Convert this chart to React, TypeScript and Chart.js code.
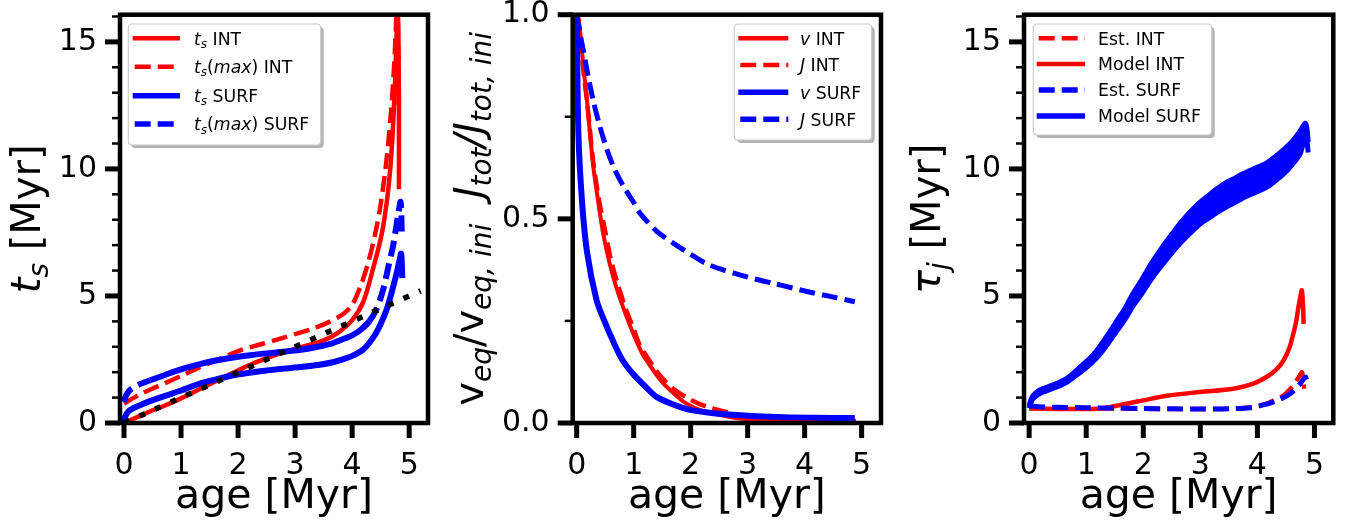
import React, { useEffect, useRef } from 'react';
import { Chart, registerables } from 'chart.js';

Chart.register(...registerables);

const RED = '#ff0000';
const BLUE = '#0000ff';
const BLACK = '#000000';
const FONT = "'DejaVu Sans'";
const DASH = [16, 7];
const DOTS = [6, 11];

// ---------- Panel 1 : t_s ----------
const p1AgeTicks = [0, 1, 2, 3, 4, 5];
const p1TsTicks = [0, 5, 10, 15];
const p1TsMinor = [1, 2, 3, 4, 6, 7, 8, 9, 11, 12, 13, 14, 16];

const tsIntAge = [0, 0.25, 0.5, 0.75, 1.0, 1.25, 1.5, 1.75, 2.0, 2.25, 2.5, 2.75, 3.0, 3.25, 3.5, 3.75, 4.0, 4.2, 4.37, 4.52, 4.61, 4.67, 4.71, 4.75, 4.78, 4.8, 4.82, 4.82];
const tsIntVal = [0, 0.25, 0.5, 0.72, 0.97, 1.25, 1.53, 1.8, 2.07, 2.33, 2.55, 2.75, 2.92, 3.07, 3.25, 3.55, 4.05, 4.8, 6.1, 7.45, 8.75, 10.05, 11.4, 13.3, 15.3, 16.5, 12.7, 9.2];

const tsMaxIntAge = [0.0, 0.1, 0.3, 0.57, 1.0, 1.33, 1.7, 2.04, 2.4, 2.74, 3.0, 3.32, 3.6, 3.85, 4.0, 4.15, 4.28, 4.4, 4.5, 4.6, 4.68, 4.74, 4.79, 4.81, 4.82];
const tsMaxIntVal = [0.76, 0.9, 1.15, 1.42, 1.85, 2.2, 2.55, 2.86, 3.1, 3.32, 3.5, 3.72, 3.98, 4.3, 4.65, 5.4, 6.3, 7.4, 8.6, 10.3, 12.2, 14.2, 16.5, 14.5, 12.5];

const tsSurfAge = [0.0, 0.03, 0.1, 0.28, 0.5, 0.75, 1.0, 1.33, 1.62, 1.92, 2.2, 2.5, 2.8, 3.09, 3.4, 3.68, 3.9, 4.03, 4.2, 4.38, 4.5, 4.61, 4.7, 4.78, 4.83, 4.86, 4.88];
const tsSurfVal = [0.04, 0.3, 0.5, 0.7, 0.9, 1.09, 1.28, 1.55, 1.72, 1.88, 1.98, 2.07, 2.14, 2.2, 2.28, 2.4, 2.55, 2.67, 2.9, 3.4, 3.9, 4.5, 5.2, 5.9, 6.4, 6.67, 5.7];

const tsMaxSurfAge = [0.0, 0.03, 0.1, 0.25, 0.46, 0.75, 1.04, 1.33, 1.63, 1.92, 2.21, 2.5, 2.79, 3.1, 3.38, 3.6, 3.79, 4.0, 4.14, 4.3, 4.43, 4.55, 4.64, 4.72, 4.81, 4.85, 4.87];
const tsMaxSurfVal = [0.83, 1.05, 1.29, 1.5, 1.68, 1.92, 2.14, 2.32, 2.47, 2.58, 2.67, 2.74, 2.8, 2.88, 2.99, 3.1, 3.26, 3.45, 3.65, 4.0, 4.5, 5.3, 6.2, 7.0, 8.24, 8.7, 7.5];

const oneToOneAge = [0, 5.2];
const oneToOneVal = [0, 5.2];

// ---------- Panel 2 : v / J ratios ----------
const p2AgeTicks = [0, 1, 2, 3, 4, 5];
const p2RatioTicks = [0, 0.5, 1];
const p2RatioMinor = [0.25, 0.75];

const vIntAge = [0.02, 0.06, 0.12, 0.18, 0.29, 0.38, 0.47, 0.58, 0.7, 0.85, 0.99, 1.15, 1.34, 1.5, 1.7, 1.9, 2.16, 2.5, 2.86, 3.5, 4.2, 4.9];
const vIntVal = [1.0, 0.96, 0.87, 0.79, 0.63, 0.54, 0.46, 0.39, 0.33, 0.27, 0.22, 0.17, 0.13, 0.1, 0.073, 0.05, 0.032, 0.02, 0.011, 0.005, 0.003, 0.002];

const jIntAge = [0.02, 0.06, 0.12, 0.18, 0.29, 0.4, 0.5, 0.6, 0.72, 0.86, 1.0, 1.11, 1.34, 1.5, 1.7, 2.0, 2.28, 2.6, 2.86, 3.45, 4.2, 4.9];
const jIntVal = [1.0, 0.95, 0.86, 0.79, 0.64, 0.54, 0.47, 0.4, 0.34, 0.28, 0.23, 0.19, 0.14, 0.11, 0.083, 0.057, 0.04, 0.028, 0.02, 0.012, 0.007, 0.005];

const vSurfAge = [0, 0.03, 0.09, 0.18, 0.35, 0.5, 0.64, 0.8, 0.99, 1.2, 1.4, 1.7, 1.99, 2.4, 2.86, 3.5, 4.2, 4.88];
const vSurfVal = [1.0, 0.71, 0.55, 0.42, 0.3, 0.245, 0.2, 0.155, 0.12, 0.09, 0.064, 0.045, 0.032, 0.024, 0.019, 0.015, 0.013, 0.012];

const jSurfAge = [0, 0.05, 0.12, 0.2, 0.29, 0.4, 0.53, 0.67, 0.82, 1.0, 1.11, 1.4, 1.7, 2.0, 2.28, 2.57, 2.86, 3.15, 3.45, 3.75, 4.04, 4.45, 4.88];
const jSurfVal = [1.0, 0.96, 0.91, 0.85, 0.79, 0.73, 0.67, 0.62, 0.58, 0.54, 0.514, 0.47, 0.44, 0.413, 0.39, 0.375, 0.363, 0.352, 0.342, 0.332, 0.322, 0.31, 0.297];

// ---------- Panel 3 : tau_j ----------
const p3AgeTicks = [0, 1, 2, 3, 4, 5];
const p3TauTicks = [0, 5, 10, 15];
const p3TauMinor = [1, 2, 3, 4, 6, 7, 8, 9, 11, 12, 13, 14, 16];

const estIntAge = [0, 0.5, 1.0, 1.5, 2.0, 2.5, 3.0, 3.5, 3.9, 4.16, 4.3, 4.46, 4.6, 4.69, 4.75, 4.78, 4.8, 4.82];
const estIntVal = [0.62, 0.6, 0.58, 0.57, 0.56, 0.55, 0.55, 0.56, 0.62, 0.76, 0.9, 1.09, 1.4, 1.68, 1.9, 2.0, 1.7, 1.35];

const modelIntAge = [0, 0.5, 1.0, 1.3, 1.53, 1.75, 2.0, 2.41, 2.99, 3.58, 3.93, 4.16, 4.33, 4.46, 4.56, 4.63, 4.68, 4.72, 4.76, 4.78, 4.8, 4.81];
const modelIntVal = [0.57, 0.55, 0.55, 0.58, 0.68, 0.78, 0.89, 1.07, 1.22, 1.35, 1.55, 1.81, 2.1, 2.47, 2.95, 3.52, 4.0, 4.57, 5.05, 5.22, 4.6, 3.9];

const estSurfAge = [0, 0.1, 0.5, 1.0, 1.5, 2.0, 2.5, 3.0, 3.5, 3.87, 4.16, 4.3, 4.46, 4.6, 4.75, 4.84, 4.86];
const estSurfVal = [0.7, 0.65, 0.62, 0.6, 0.59, 0.57, 0.56, 0.55, 0.56, 0.6, 0.74, 0.85, 1.0, 1.2, 1.55, 1.81, 1.7];

const modelSurfAge = [0.0, 0.03, 0.07, 0.15, 0.25, 0.37, 0.5, 0.66, 0.8, 0.95, 1.1, 1.24, 1.38, 1.53, 1.68, 1.82, 1.97, 2.12, 2.26, 2.41, 2.55, 2.7, 2.85, 2.99, 3.14, 3.29, 3.43, 3.58, 3.72, 3.87, 4.01, 4.16, 4.31, 4.46, 4.6, 4.75, 4.84, 4.87, 4.89];
const modelSurfUpper = [0.68, 0.9, 1.08, 1.25, 1.36, 1.46, 1.57, 1.76, 2.01, 2.32, 2.63, 3.02, 3.48, 4.0, 4.52, 5.1, 5.63, 6.21, 6.68, 7.16, 7.58, 8.0, 8.37, 8.68, 8.95, 9.22, 9.43, 9.61, 9.78, 9.94, 10.08, 10.23, 10.48, 10.76, 11.06, 11.5, 11.8, 11.55, 11.05];
const modelSurfLower = [0.58, 0.8, 0.96, 1.11, 1.22, 1.32, 1.43, 1.6, 1.83, 2.08, 2.37, 2.7, 3.12, 3.6, 4.08, 4.6, 5.07, 5.59, 6.02, 6.44, 6.82, 7.2, 7.53, 7.82, 8.05, 8.28, 8.47, 8.65, 8.82, 8.98, 9.12, 9.27, 9.52, 9.8, 10.14, 10.6, 11.3, 11.05, 10.65];

// ---------- helpers ----------
type Run = { t: string; it?: boolean; sub?: boolean };
type LegendRow = { runs: Run[]; color: string; width: number; dash: boolean };

const pts = (xs: number[], ys: number[]) => xs.map((x, i) => ({ x, y: ys[i] }));

function line(xs: number[], ys: number[], color: string, width: number, dash: number[] | null, extra: any = {}) {
  return {
    data: pts(xs, ys),
    borderColor: color,
    backgroundColor: color,
    borderWidth: width,
    borderDash: dash || [],
    pointRadius: 0,
    pointHoverRadius: 0,
    fill: false,
    tension: 0.3,
    ...extra,
  };
}

function fontFor(r: Run, size: number) {
  const s = r.sub ? size * 0.7 : size;
  return `${r.it ? 'italic ' : ''}${s}px ${FONT}`;
}
function runsWidth(ctx: CanvasRenderingContext2D, runs: Run[], size: number) {
  let w = 0;
  for (const r of runs) {
    ctx.font = fontFor(r, size);
    w += ctx.measureText(r.t).width;
  }
  return w;
}
function drawRuns(ctx: CanvasRenderingContext2D, runs: Run[], x: number, y: number, size: number) {
  let cx = x;
  ctx.textBaseline = 'alphabetic';
  ctx.textAlign = 'left';
  for (const r of runs) {
    ctx.font = fontFor(r, size);
    ctx.fillText(r.t, cx, y + (r.sub ? size * 0.2 : 0));
    cx += ctx.measureText(r.t).width;
  }
}
function roundRect(ctx: CanvasRenderingContext2D, x: number, y: number, w: number, h: number, r: number) {
  ctx.beginPath();
  ctx.moveTo(x + r, y);
  ctx.lineTo(x + w - r, y);
  ctx.quadraticCurveTo(x + w, y, x + w, y + r);
  ctx.lineTo(x + w, y + h - r);
  ctx.quadraticCurveTo(x + w, y + h, x + w - r, y + h);
  ctx.lineTo(x + r, y + h);
  ctx.quadraticCurveTo(x, y + h, x, y + h - r);
  ctx.lineTo(x, y + r);
  ctx.quadraticCurveTo(x, y, x + r, y);
  ctx.closePath();
}

type PanelDef = {
  canvasLeft: number;
  width: number;
  areaLeft: number;
  areaRight: number;
  xMin: number;
  xMax: number;
  yMin: number;
  yMax: number;
  xTicks: number[];
  yTicks: number[];
  yMinor: number[];
  yFmt: (v: number) => string;
  yTitle: Run[];
  yTitleBaseX: number;
  legendBox: number[];
  legendLineX: number[];
  legendTextX: number;
  legendRowsY: number[];
  legend: LegendRow[];
  datasets: any[];
};

const TOP = 14.7;
const BOTTOM = 423;
const H = 524;

const tRuns = (extra: Run[]): Run[] => [{ t: 't', it: true }, { t: 's', it: true, sub: true }, ...extra];

const panels: PanelDef[] = [
  {
    canvasLeft: 0, width: 445, areaLeft: 120, areaRight: 428,
    xMin: -0.07, xMax: 5.33, yMin: 0, yMax: 16.07,
    xTicks: p1AgeTicks, yTicks: p1TsTicks, yMinor: p1TsMinor,
    yFmt: (v) => String(v),
    yTitle: tRuns([{ t: ' [Myr]' }]),
    yTitleBaseX: 40,
    legendBox: [128.3, 24, 320.7, 145],
    legendLineX: [132.7, 180],
    legendTextX: 194,
    legendRowsY: [38.3, 66.7, 95.7, 124],
    legend: [
      { runs: tRuns([{ t: ' INT' }]), color: RED, width: 4.5, dash: false },
      { runs: tRuns([{ t: '(' }, { t: 'max', it: true }, { t: ') INT' }]), color: RED, width: 4.5, dash: true },
      { runs: tRuns([{ t: ' SURF' }]), color: BLUE, width: 5.5, dash: false },
      { runs: tRuns([{ t: '(' }, { t: 'max', it: true }, { t: ') SURF' }]), color: BLUE, width: 5.5, dash: true },
    ],
    datasets: [
      line(tsIntAge, tsIntVal, RED, 4.5, null, { order: 0 }),
      line(tsMaxIntAge, tsMaxIntVal, RED, 4.5, DASH, { order: -1 }),
      line(tsSurfAge, tsSurfVal, BLUE, 6, null, { order: -2 }),
      line(tsMaxSurfAge, tsMaxSurfVal, BLUE, 6, DASH, {
        order: -3,
        segment: {
          borderDash: (c: any) => (c.p0.parsed.x > 0.3 && c.p1.parsed.x < 4.35 ? [] : DASH),
        },
      }),
      line(oneToOneAge, oneToOneVal, BLACK, 5.5, DOTS, { order: -4, tension: 0 }),
    ],
  },
  {
    canvasLeft: 445, width: 450, areaLeft: 127.7, areaRight: 436,
    xMin: -0.07, xMax: 5.34, yMin: 0, yMax: 1,
    xTicks: p2AgeTicks, yTicks: p2RatioTicks, yMinor: p2RatioMinor,
    yFmt: (v) => v.toFixed(1),
    yTitle: [
      { t: 'v' }, { t: 'eq', it: true, sub: true }, { t: '/v' }, { t: 'eq, ini', it: true, sub: true },
      { t: '  ' },
      { t: 'J', it: true }, { t: 'tot', it: true, sub: true }, { t: '/', it: true }, { t: 'J', it: true }, { t: 'tot, ini', it: true, sub: true },
    ],
    yTitleBaseX: 483,
    legendBox: [734.3, 24, 871.7, 140],
    legendLineX: [738.3, 788.3],
    legendTextX: 800,
    legendRowsY: [38.3, 65, 92.3, 119.3],
    legend: [
      { runs: [{ t: 'v', it: true }, { t: ' INT' }], color: RED, width: 4.5, dash: false },
      { runs: [{ t: 'J', it: true }, { t: ' INT' }], color: RED, width: 4.5, dash: true },
      { runs: [{ t: 'v', it: true }, { t: ' SURF' }], color: BLUE, width: 5.5, dash: false },
      { runs: [{ t: 'J', it: true }, { t: ' SURF' }], color: BLUE, width: 5.5, dash: true },
    ],
    datasets: [
      line(vIntAge, vIntVal, RED, 4, null, { order: 0 }),
      line(jIntAge, jIntVal, RED, 4.5, DASH, { order: -1 }),
      line(vSurfAge, vSurfVal, BLUE, 6, null, { order: -2 }),
      line(jSurfAge, jSurfVal, BLUE, 5, DASH, { order: -3 }),
    ],
  },
  {
    canvasLeft: 895, width: 451, areaLeft: 129, areaRight: 438.3,
    xMin: -0.09, xMax: 5.33, yMin: 0, yMax: 16.07,
    xTicks: p3AgeTicks, yTicks: p3TauTicks, yMinor: p3TauMinor,
    yFmt: (v) => String(v),
    yTitle: [{ t: 'τ', it: true }, { t: 'j', it: true, sub: true }, { t: ' [Myr]' }],
    yTitleBaseX: 940,
    legendBox: [1033.3, 24, 1211.7, 135],
    legendLineX: [1036.7, 1085],
    legendTextX: 1098,
    legendRowsY: [38.3, 64, 90, 116],
    legend: [
      { runs: [{ t: 'Est. INT' }], color: RED, width: 4.5, dash: true },
      { runs: [{ t: 'Model INT' }], color: RED, width: 4.5, dash: false },
      { runs: [{ t: 'Est. SURF' }], color: BLUE, width: 5.5, dash: true },
      { runs: [{ t: 'Model SURF' }], color: BLUE, width: 5.5, dash: false },
    ],
    datasets: [
      line(estIntAge, estIntVal, RED, 4.5, DASH, { order: 0 }),
      line(modelIntAge, modelIntVal, RED, 4.5, null, { order: -1 }),
      line(estSurfAge, estSurfVal, BLUE, 5, DASH, { order: -2 }),
      line(modelSurfAge, modelSurfUpper, BLUE, 5, null, { order: -4, fill: '+1', backgroundColor: BLUE }),
      line(modelSurfAge, modelSurfLower, BLUE, 5, null, { order: -3 }),
    ],
  },
];

function decorPlugin(p: PanelDef) {
  return {
    id: 'decor',
    afterDraw(chart: any) {
      const ctx: CanvasRenderingContext2D = chart.ctx;
      const a = chart.chartArea;
      const xs = chart.scales.x;
      const ys = chart.scales.y;
      const off = p.canvasLeft;
      ctx.save();
      ctx.strokeStyle = '#000';
      ctx.lineCap = 'butt';
      const seg = (x0: number, y0: number, x1: number, y1: number, w: number) => {
        ctx.lineWidth = w;
        ctx.beginPath();
        ctx.moveTo(x0, y0);
        ctx.lineTo(x1, y1);
        ctx.stroke();
      };
      for (const v of p.xTicks) {
        const px = xs.getPixelForValue(v);
        seg(px, a.bottom, px, a.bottom + 15, 5);
      }
      for (const v of p.yTicks) {
        const py = ys.getPixelForValue(v);
        seg(a.left, py, a.left - 15, py, 5);
      }
      for (const v of p.yMinor) {
        const py = ys.getPixelForValue(v);
        seg(a.left, py, a.left - 8, py, 2.5);
      }
      // spines
      ctx.lineWidth = 4.5;
      ctx.lineJoin = 'miter';
      ctx.strokeRect(a.left, a.top, a.right - a.left, a.bottom - a.top);

      // titles
      ctx.fillStyle = '#000';
      const xt: Run[] = [{ t: 'age [Myr]' }];
      const xw = runsWidth(ctx, xt, 41);
      drawRuns(ctx, xt, (a.left + a.right) / 2 - xw / 2, 508, 41);

      const yw = runsWidth(ctx, p.yTitle, 40);
      ctx.save();
      ctx.translate(p.yTitleBaseX - off, (a.top + a.bottom) / 2);
      ctx.rotate(-Math.PI / 2);
      drawRuns(ctx, p.yTitle, -yw / 2, 0, 40);
      ctx.restore();

      // legend
      const [bx0, by0, bx1, by1] = p.legendBox;
      const lx = bx0 - off, lw = bx1 - bx0, lh = by1 - by0;
      ctx.fillStyle = 'rgba(0,0,0,0.3)';
      roundRect(ctx, lx + 3, by0 + 3, lw, lh, 4);
      ctx.fill();
      ctx.fillStyle = '#ffffff';
      roundRect(ctx, lx, by0, lw, lh, 4);
      ctx.fill();
      ctx.strokeStyle = '#cccccc';
      ctx.lineWidth = 1.2;
      ctx.stroke();
      const fs = 17.3;
      p.legend.forEach((row, i) => {
        const ry = p.legendRowsY[i];
        ctx.strokeStyle = row.color;
        ctx.lineWidth = row.width;
        ctx.setLineDash(row.dash ? DASH : []);
        ctx.lineDashOffset = row.dash ? -2 : 0;
        ctx.beginPath();
        ctx.moveTo(p.legendLineX[0] - off, ry);
        ctx.lineTo(p.legendLineX[1] - off, ry);
        ctx.stroke();
        ctx.setLineDash([]);
        ctx.fillStyle = '#000';
        drawRuns(ctx, row.runs, p.legendTextX - off, ry + fs * 0.365, fs);
      });
      ctx.restore();
    },
  };
}

function Panel({ p }: { p: PanelDef }) {
  const ref = useRef<HTMLCanvasElement>(null);
  useEffect(() => {
    if (!ref.current) return;
    const chart = new Chart(ref.current, {
      type: 'line',
      data: { datasets: p.datasets },
      options: {
        animation: false,
        responsive: false,
        maintainAspectRatio: false,
        events: [],
        layout: { padding: { left: 0, top: TOP, right: p.width - p.areaRight, bottom: 0 } },
        plugins: { legend: { display: false }, tooltip: { enabled: false } },
        scales: {
          x: {
            type: 'linear',
            min: p.xMin,
            max: p.xMax,
            afterFit: (s: any) => {
              s.height = H - BOTTOM;
              s.paddingLeft = 0; s.paddingRight = 0; s.paddingTop = 0; s.paddingBottom = 0;
            },
            afterBuildTicks: (s: any) => { s.ticks = p.xTicks.map((v) => ({ value: v })); },
            ticks: {
              font: { family: FONT, size: 30 },
              color: '#000',
              padding: 25,
              maxRotation: 0,
              autoSkip: false,
              callback: (v: any) => String(v),
            },
            grid: { display: false, drawTicks: false },
            border: { display: false },
          },
          y: {
            type: 'linear',
            min: p.yMin,
            max: p.yMax,
            afterFit: (s: any) => {
              s.width = p.areaLeft;
              s.paddingLeft = 0; s.paddingRight = 0; s.paddingTop = 0; s.paddingBottom = 0;
            },
            afterBuildTicks: (s: any) => { s.ticks = p.yTicks.map((v) => ({ value: v })); },
            ticks: {
              font: { family: FONT, size: 30 },
              color: '#000',
              padding: 23,
              autoSkip: false,
              callback: (v: any) => p.yFmt(Number(v)),
            },
            grid: { display: false, drawTicks: false },
            border: { display: false },
          },
        },
      } as any,
      plugins: [decorPlugin(p)],
    });
    return () => chart.destroy();
  }, [p]);
  return (
    <canvas
      ref={ref}
      width={p.width}
      height={H}
      style={{ position: 'absolute', left: p.canvasLeft, top: 0, width: p.width, height: H, display: 'block' }}
    />
  );
}

export default function App() {
  return (
    <div style={{ position: 'absolute', left: 0, top: 0, width: 1346, height: H, background: '#ffffff', overflow: 'hidden' }}>
      {panels.map((p, i) => (
        <Panel key={i} p={p} />
      ))}
    </div>
  );
}
